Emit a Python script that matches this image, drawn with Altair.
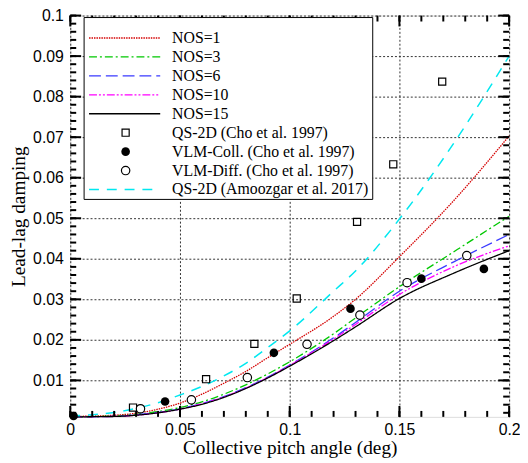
import altair as alt
import pandas as pd

# ---------------- data ----------------
xs = [0.0, 0.02, 0.03, 0.04, 0.05, 0.06, 0.07, 0.08, 0.09, 0.10, 0.12, 0.13, 0.15, 0.175, 0.20]
nos1 = [0.0011, 0.0014, 0.0019, 0.0029, 0.0044, 0.0066, 0.0093, 0.0122, 0.0156, 0.0189, 0.0258, 0.0300, 0.0405, 0.0545, 0.0703]
nos3 = [0.0010, 0.0012, 0.0016, 0.0023, 0.0033, 0.0047, 0.0066, 0.0089, 0.0116, 0.0146, 0.0215, 0.0254, 0.0331, 0.0418, 0.0505]
nos6 = [0.0010, 0.0011, 0.0015, 0.0021, 0.0030, 0.0043, 0.0060, 0.0082, 0.0108, 0.0138, 0.0205, 0.0243, 0.0320, 0.0393, 0.0460]
nos10 = [0.0010, 0.0011, 0.0014, 0.0020, 0.0029, 0.0042, 0.0059, 0.0081, 0.0107, 0.0137, 0.0202, 0.0238, 0.0312, 0.0381, 0.0432]
nos15 = [0.0010, 0.0011, 0.0014, 0.0020, 0.0029, 0.0041, 0.0058, 0.0080, 0.0106, 0.0135, 0.0198, 0.0232, 0.0302, 0.0365, 0.0420]
qs_amz = [0.0012, 0.0021, 0.0031, 0.0045, 0.0064, 0.0085, 0.0111, 0.0142, 0.0181, 0.0222, 0.0320, 0.0370, 0.0498, 0.0687, 0.0900]

qs_cho_x = [0.0286, 0.0619, 0.0839, 0.1032, 0.1307, 0.1472, 0.1695]
qs_cho_y = [0.0033, 0.0103, 0.0190, 0.0302, 0.0491, 0.0633, 0.0837]
vlm_coll_x = [0.0015, 0.0432, 0.0928, 0.1277, 0.1600, 0.1885]
vlm_coll_y = [0.0012, 0.0048, 0.0168, 0.0277, 0.0351, 0.0375]
vlm_diff_x = [0.0320, 0.0552, 0.0807, 0.1079, 0.1320, 0.1535, 0.1807]
vlm_diff_y = [0.0030, 0.0052, 0.0107, 0.0189, 0.0261, 0.0341, 0.0408]

line_names = ["NOS=1", "NOS=3", "NOS=6", "NOS=10", "NOS=15"]
line_colors = ["#d40000", "#00c800", "#3a3aff", "#ff00ff", "#000000"]
line_dashes = [[1.5, 1], [8, 3, 2, 3], [12, 5], [8, 2, 2, 2, 2, 2], [1, 0]]
point_names = ["QS-2D (Cho et al. 1997)", "VLM-Coll. (Cho et al. 1997)", "VLM-Diff. (Cho et al. 1997)"]
cyan_name = "QS-2D (Amoozgar et al. 2017)"
cyan_color = "#00e8f0"
cyan_dash = [10, 8]

x_major = [0, 0.05, 0.1, 0.15, 0.2]
y_major = [0.01, 0.02, 0.03, 0.04, 0.05, 0.06, 0.07, 0.08, 0.09, 0.1]
x_minor = [i / 100 for i in range(0, 21)]
y_minor = [i / 500 for i in range(1, 51)]

W, H = 444, 406
serif = "Liberation Serif"
sans = "Liberation Sans"

xscale = alt.Scale(domain=[0, 0.2], nice=False, zero=False)
yscale = alt.Scale(domain=[0.001, 0.1], nice=False, zero=False)

X = alt.X("x:Q", scale=xscale,
          axis=alt.Axis(values=x_major, format="~g", title="Collective pitch angle (deg)",
                        grid=True, gridDash=[2, 2], gridColor="#333333", gridWidth=1,
                        ticks=False, domain=False, labelFont=sans, labelFontSize=16,
                        labelColor="#000", labelPadding=5, titleFont=serif, titleFontSize=19.5,
                        titleFontWeight="normal", titleColor="#000",
                        titleY=31, titleBaseline="middle", labelFlush=False))
Y = alt.Y("y:Q", scale=yscale,
          axis=alt.Axis(values=y_major, format="~g", title="Lead-lag damping",
                        grid=True, gridDash=[2, 2], gridColor="#333333", gridWidth=1,
                        ticks=False, domain=False, labelFont=sans, labelFontSize=16,
                        labelColor="#000", labelPadding=7, titleFont=serif, titleFontSize=19.5,
                        titleFontWeight="normal", titleColor="#000",
                        titleX=-52, titleY=H / 2, titleBaseline="middle", labelFlush=False))

layers = []

base_df = pd.DataFrame({"x": [0, 0.2], "y": [0.001, 0.1]})
layers.append(alt.Chart(base_df).mark_point(opacity=0).encode(x=X, y=Y))

curve_vals = [nos1, nos3, nos6, nos10, nos15]
for name, vals, col, dash in zip(line_names, curve_vals, line_colors, line_dashes):
    df = pd.DataFrame({"x": xs, "y": vals})
    layers.append(alt.Chart(df).mark_line(color=col, strokeDash=dash, strokeWidth=1.3,
                                          interpolate="monotone").encode(x="x:Q", y="y:Q"))
df_c = pd.DataFrame({"x": xs, "y": qs_amz})
layers.append(alt.Chart(df_c).mark_line(color=cyan_color, strokeDash=cyan_dash, strokeWidth=1.5,
                                        interpolate="monotone").encode(x="x:Q", y="y:Q"))

SQ, FC, OC = 52, 76, 72
layers.append(alt.Chart(pd.DataFrame({"x": qs_cho_x, "y": qs_cho_y})).mark_point(
    shape="square", size=SQ, filled=False, color="#000", strokeWidth=1.2, opacity=1).encode(x="x:Q", y="y:Q"))
layers.append(alt.Chart(pd.DataFrame({"x": vlm_coll_x, "y": vlm_coll_y})).mark_point(
    shape="circle", size=FC, filled=True, color="#000", opacity=1).encode(x="x:Q", y="y:Q"))
layers.append(alt.Chart(pd.DataFrame({"x": vlm_diff_x, "y": vlm_diff_y})).mark_point(
    shape="circle", size=OC, filled=True, fill="#fff", stroke="#000", strokeWidth=1.2, opacity=1).encode(x="x:Q", y="y:Q"))

# inward ticks on all four sides
xmaj = pd.DataFrame({"x": x_major})
xmin = pd.DataFrame({"x": x_minor})
ymaj = pd.DataFrame({"y": y_major})
ymin = pd.DataFrame({"y": y_minor})
for df, ln in [(xmaj, 11), (xmin, 6)]:
    layers.append(alt.Chart(df).mark_rule(color="#000", strokeWidth=2).encode(
        x="x:Q", y=alt.value(H), y2=alt.value(H - ln)))
    layers.append(alt.Chart(df).mark_rule(color="#000", strokeWidth=2).encode(
        x="x:Q", y=alt.value(0), y2=alt.value(ln)))
for df, ln in [(ymaj, 11), (ymin, 6)]:
    layers.append(alt.Chart(df).mark_rule(color="#000", strokeWidth=2).encode(
        y="y:Q", x=alt.value(0), x2=alt.value(ln)))
    layers.append(alt.Chart(df).mark_rule(color="#000", strokeWidth=2).encode(
        y="y:Q", x=alt.value(W), x2=alt.value(W - ln)))

# legend
one = pd.DataFrame({"a": [0]})
layers.append(alt.Chart(one).mark_rect(fill="#fff", stroke="#000", strokeWidth=1).encode(
    x=alt.value(14), x2=alt.value(306), y=alt.value(2), y2=alt.value(186)))

entry_y = [22.7 + 19.16 * i for i in range(9)]
lx1, lx2, sx, tx = 19, 91, 56, 103
for i, (name, col, dash) in enumerate(zip(line_names, line_colors, line_dashes)):
    layers.append(alt.Chart(one).mark_rule(color=col, strokeDash=dash, strokeWidth=1.3).encode(
        x=alt.value(lx1), x2=alt.value(lx2), y=alt.value(entry_y[i])))
layers.append(alt.Chart(one).mark_rule(color=cyan_color, strokeDash=cyan_dash, strokeWidth=1.5).encode(
    x=alt.value(lx1), x2=alt.value(lx2), y=alt.value(entry_y[8])))
layers.append(alt.Chart(one).mark_point(shape="square", size=SQ, filled=False, color="#000",
                                        strokeWidth=1.2, opacity=1).encode(
    x=alt.value(sx), y=alt.value(entry_y[5])))
layers.append(alt.Chart(one).mark_point(shape="circle", size=FC, filled=True, color="#000",
                                        opacity=1).encode(
    x=alt.value(sx), y=alt.value(entry_y[6])))
layers.append(alt.Chart(one).mark_point(shape="circle", size=OC, filled=True, fill="#fff",
                                        stroke="#000", strokeWidth=1.2, opacity=1).encode(
    x=alt.value(sx), y=alt.value(entry_y[7])))
all_names = line_names + point_names + [cyan_name]
for i, name in enumerate(all_names):
    layers.append(alt.Chart(one).mark_text(text=name, font=serif, fontSize=16, align="left",
                                           baseline="middle", color="#000").encode(
        x=alt.value(tx), y=alt.value(entry_y[i])))

chart = alt.layer(*layers).properties(
    width=W, height=H,
    autosize=alt.AutoSizeParams(type="none"),
    padding={"left": 63, "top": 5, "right": 11, "bottom": 42},
).configure_view(stroke="#000", strokeWidth=3).configure(background="#ffffff")

chart.save("out.html", embed_options={"renderer": "svg", "actions": False})
